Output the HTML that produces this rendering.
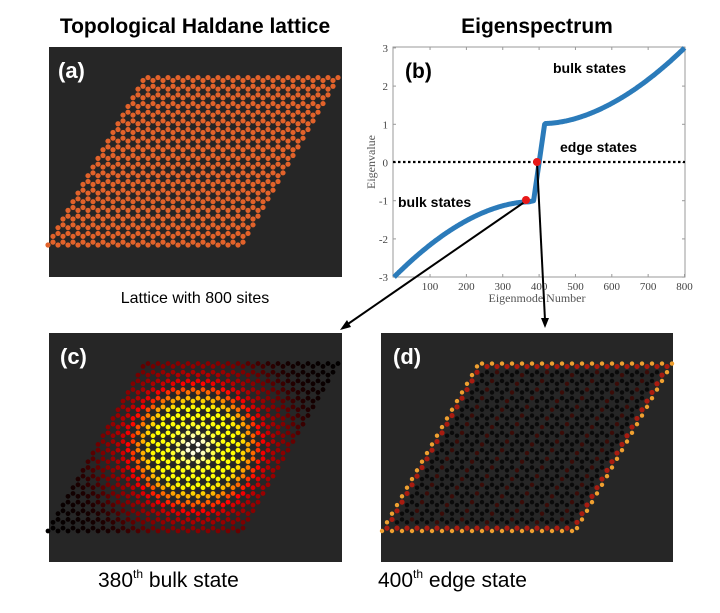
<!DOCTYPE html>
<html><head><meta charset="utf-8"><style>
body{margin:0;background:#fff;width:720px;height:613px;overflow:hidden;font-family:"Liberation Sans",Arial,sans-serif}
svg{display:block}
</style></head><body>
<svg id="s" width="720" height="613" xmlns="http://www.w3.org/2000/svg">
<text x="195" y="33" font-size="21" font-weight="bold" text-anchor="middle" font-family="Liberation Sans">Topological Haldane lattice</text>
<text x="537" y="33" font-size="21" font-weight="bold" text-anchor="middle" font-family="Liberation Sans">Eigenspectrum</text>
<rect x="49" y="47" width="293" height="230" fill="#262626"/>
<rect x="49" y="333" width="293" height="229" fill="#262626"/>
<rect x="381" y="333" width="292" height="229" fill="#262626"/>
<g id="ga"></g><g id="gc"></g><g id="gd"></g>
<text x="58" y="78" font-size="22" font-weight="bold" fill="#fff">(a)</text>
<text x="60" y="364" font-size="22" font-weight="bold" fill="#fff">(c)</text>
<text x="393" y="364" font-size="22" font-weight="bold" fill="#fff">(d)</text>
<text x="195" y="303" font-size="16" text-anchor="middle">Lattice with 800 sites</text>
<text x="98" y="587" font-size="21">380<tspan font-size="12" dy="-9">th</tspan><tspan dy="9"> bulk state</tspan></text>
<text x="378" y="587" font-size="21">400<tspan font-size="12" dy="-9">th</tspan><tspan dy="9"> edge state</tspan></text>
<rect x="393" y="47" width="292" height="230" fill="#fff" stroke="#999" stroke-width="1"/>
<g id="ticks" font-family="Liberation Serif" font-size="11" fill="#444"></g>
<line x1="393" y1="162" x2="685" y2="162" stroke="#000" stroke-width="2.2" stroke-dasharray="2.5,2.5"/>
<path id="curve" fill="none" stroke="#2b7bba" stroke-width="5" stroke-linejoin="round"/>
<text x="405" y="78" font-size="21" font-weight="bold">(b)</text>
<text x="553" y="73" font-size="14" font-weight="bold">bulk states</text>
<text x="560" y="152" font-size="14" font-weight="bold">edge states</text>
<text x="398" y="207" font-size="14" font-weight="bold">bulk states</text>
<text x="537" y="302" font-size="12" text-anchor="middle" font-family="Liberation Serif" fill="#555">Eigenmode Number</text>
<text transform="translate(375,162) rotate(-90)" font-size="12" text-anchor="middle" font-family="Liberation Serif" fill="#555">Eigenvalue</text>
<line x1="526" y1="201" x2="345" y2="326" stroke="#000" stroke-width="2"/>
<polygon points="340,330 347,320 351,327" fill="#000"/>
<line x1="537" y1="162" x2="545" y2="320" stroke="#000" stroke-width="2"/>
<polygon points="545,328 541,318 549,318" fill="#000"/>
<circle cx="526" cy="200" r="4" fill="#e81818"/>
<circle cx="537" cy="162" r="4" fill="#e81818"/>
</svg>
<script>
var NS="http://www.w3.org/2000/svg";
function el(p,t,a){var e=document.createElementNS(NS,t);for(var k in a)e.setAttribute(k,a[k]);p.appendChild(e);return e;}
var a=10,N=20,pts=[];
for(var j=0;j<N;j++)for(var i=0;i<N;i++){
 var x=i*a+j*a/2,y=-j*a*Math.sqrt(3)/2;
 pts.push([x,y]);pts.push([x+a/2,y-a/(2*Math.sqrt(3))]);
}
var dn=a/Math.sqrt(3),nb=pts.map(function(){return []});
for(var p=0;p<pts.length;p++)for(var q=p+1;q<pts.length;q++){
 var dx=pts[p][0]-pts[q][0],dy=pts[p][1]-pts[q][1];
 if(Math.abs(Math.hypot(dx,dy)-dn)<0.5){nb[p].push(q);nb[q].push(p);}
}
var edge=nb.map(function(n){return n.length<3});
var lay2=nb.map(function(n,i){return !edge[i]&&n.some(function(k){return edge[k]})});
function hot(v){var r=Math.min(1,v*3),g=Math.max(0,Math.min(1,v*3-1)),b=Math.max(0,Math.min(1,v*3-2));
 return "rgb("+Math.round(r*255)+","+Math.round(g*255)+","+Math.round(b*255)+")";}
var ga=document.getElementById("ga"),gc=document.getElementById("gc"),gd=document.getElementById("gd");
pts.forEach(function(pt,k){
 el(ga,"circle",{cx:48+pt[0],cy:245+pt[1],r:2.6,fill:"#e2622a"});
 var cx=48+pt[0],cy=531+pt[1];
 var r=Math.hypot(cx-195,(cy-447)*1.05);
 var v=Math.exp(-r*r/(2*56*56));
 v=Math.pow(v,1.3)*(0.9+0.1*Math.cos(r/8));
 el(gc,"circle",{cx:cx,cy:cy,r:2.4,fill:hot(Math.min(1,v))});
 var col=edge[k]?"#f0a030":(lay2[k]?"#a81c10":((k%5==0)?"#3a0c08":"#0a0a0a"));
 el(gd,"circle",{cx:382+pt[0],cy:531+pt[1],r:lay2[k]?2.6:2.2,fill:col});
});
var tk=document.getElementById("ticks");
function X(n){return 393.7+n*0.3635}
function Y(v){return 162.5-v*38.2}
for(var n=100;n<=800;n+=100){
 el(tk,"line",{x1:X(n),y1:277,x2:X(n),y2:274,stroke:"#999"});
 el(tk,"line",{x1:X(n),y1:47,x2:X(n),y2:50,stroke:"#999"});
 var t=el(tk,"text",{x:X(n),y:290,"text-anchor":"middle"});t.textContent=n;
}
for(var v=-3;v<=3;v++){
 el(tk,"line",{x1:393,y1:Y(v),x2:396,y2:Y(v),stroke:"#999"});
 el(tk,"line",{x1:685,y1:Y(v),x2:682,y2:Y(v),stroke:"#999"});
 var t=el(tk,"text",{x:388,y:Y(v)+4,"text-anchor":"end"});t.textContent=v;
}
var d="";
for(var n=1;n<=800;n+=3){
 var y;
 if(n<=372){var t=(n-1)/371;y=-1.03-1.97*Math.pow(1-t,1.8);}
 else if(n<=385){y=-1.03+0.03*(n-372)/13;}
 else if(n<=415){y=-1+2*(n-385)/30;}
 else {var t=(n-415)/385;y=1.02+1.98*Math.pow(t,1.8);}
 d+=(d?"L":"M")+X(n).toFixed(1)+","+Y(y).toFixed(1);
}
d+="L"+X(800)+","+Y(3);
document.getElementById("curve").setAttribute("d",d);
</script>
</body></html>
